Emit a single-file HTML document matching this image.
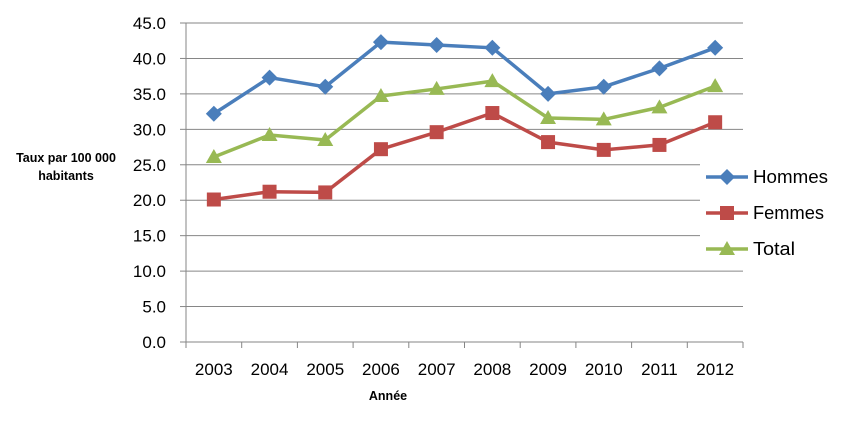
<!DOCTYPE html>
<html><head><meta charset="utf-8"><style>
html,body{margin:0;padding:0;background:#fff;width:842px;height:424px;overflow:hidden}
svg text{font-family:"Liberation Sans",Arial,sans-serif}
</style></head><body>
<svg id="chart" width="842" height="424" xmlns="http://www.w3.org/2000/svg"></svg>
<script>
const categories=["2003","2004","2005","2006","2007","2008","2009","2010","2011","2012"];
const hommes=[32.2,37.3,36.0,42.3,41.9,41.5,35.0,36.0,38.6,41.5];
const femmes=[20.1,21.2,21.1,27.2,29.6,32.3,28.2,27.1,27.8,31.0];
const total=[26.1,29.2,28.5,34.7,35.7,36.8,31.6,31.4,33.1,36.1];
const yTicks=[0,5,10,15,20,25,30,35,40,45];
const seriesNames=["Hommes","Femmes","Total"];

const svg=document.getElementById('chart');
const NS="http://www.w3.org/2000/svg";
const plotLeft=186,plotRight=743,plotTop=23,plotBottom=342,yMax=45;
const step=(plotRight-plotLeft)/categories.length;
const xs=i=>plotLeft+step*(i+0.5);
const ys=v=>plotBottom-(v/yMax)*(plotBottom-plotTop);
function mk(tag,attrs,parent){const e=document.createElementNS(NS,tag);for(const k in attrs)e.setAttribute(k,attrs[k]);(parent||svg).appendChild(e);return e;}

const grid=mk('g',{});


yTicks.forEach(t=>{ if(t>0) mk('line',{x1:plotLeft,y1:ys(t),x2:plotRight,y2:ys(t),stroke:'#868686','stroke-width':1},grid); });

const axes=mk('g',{});


mk('line',{x1:plotLeft,y1:plotTop,x2:plotLeft,y2:plotBottom,stroke:'#868686','stroke-width':1},axes);
mk('line',{x1:plotLeft,y1:plotBottom,x2:plotRight,y2:plotBottom,stroke:'#868686','stroke-width':1},axes);
yTicks.forEach(t=>{
  mk('line',{x1:plotLeft-6,y1:ys(t),x2:plotLeft,y2:ys(t),stroke:'#868686'},axes);
  const tx=mk('text',{x:166,y:ys(t)+6,'text-anchor':'end','font-size':17,fill:'#000'},axes);
  tx.textContent=t.toFixed(1);
  
  
});
for(let i=0;i<=categories.length;i++){
  mk('line',{x1:plotLeft+step*i,y1:plotBottom,x2:plotLeft+step*i,y2:plotBottom+6,stroke:'#868686'},axes);
}
categories.forEach((c,i)=>{
  const tx=mk('text',{x:xs(i),y:375,'text-anchor':'middle','font-size':17,fill:'#000'},axes);
  tx.textContent=c;
  
  
});
const yt=mk('text',{x:66,y:162,'text-anchor':'middle','font-size':12.5,'font-weight':'bold'});
const ys1=mk('tspan',{x:66},yt); ys1.textContent='Taux par 100 000';
const ys2=mk('tspan',{x:66,dy:18},yt); ys2.textContent='habitants';


const xt=mk('text',{x:388,y:400,'text-anchor':'middle','font-size':12.5,'font-weight':'bold'});
xt.textContent='Année';



function marker(kind,x,y,color,g){
  if(kind==='diamond') mk('polygon',{points:`${x},${y-8} ${x+8},${y} ${x},${y+8} ${x-8},${y}`,fill:color},g);
  else if(kind==='square') mk('rect',{x:x-7,y:y-7,width:14,height:14,fill:color},g);
  else mk('polygon',{points:`${x},${y-8} ${x+8},${y+6} ${x-8},${y+6}`,fill:color},g);
}
const series=[[hommes,'#4a7ebb','diamond'],[femmes,'#be4b48','square'],[total,'#98b954','triangle']];
const legendW=[75,71,42];
series.forEach(([vals,color,kind],si)=>{
  const g=mk('g',{});
  
  
  mk('polyline',{points:vals.map((v,i)=>xs(i)+','+ys(v)).join(' '),fill:'none',stroke:color,'stroke-width':3.5,'stroke-linejoin':'round'},g);
  vals.forEach((v,i)=>marker(kind,xs(i),ys(v),color,g));
  const ly=177+si*36;
  const lg=mk('g',{});
  
  
  mk('rect',{x:700,y:ly-14,width:142,height:28,fill:'#fff'},lg);
  mk('line',{x1:706,y1:ly,x2:748,y2:ly,stroke:color,'stroke-width':3.5},lg);
  marker(kind,727,ly,color,lg);
  const t=mk('text',{x:753,y:ly+6,'font-size':18,textLength:legendW[si],lengthAdjust:'spacingAndGlyphs'},lg);
  t.textContent=seriesNames[si];
});
</script>
</body></html>
